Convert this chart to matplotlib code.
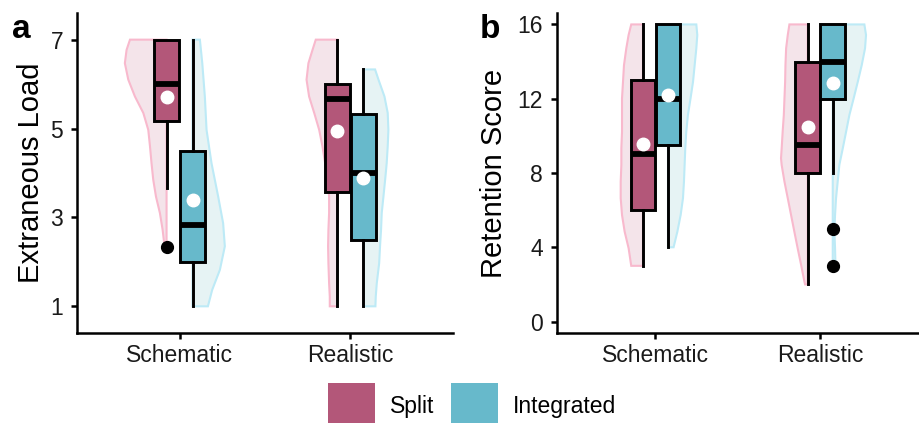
import numpy as np
import matplotlib
matplotlib.use('Agg')
import matplotlib.pyplot as plt
from matplotlib.patches import Patch, Polygon

plt.rcParams['font.family'] = ['Liberation Sans', 'DejaVu Sans']

# ==================================================
# data
# ==================================================
categories = ['Schematic', 'Realistic']
groups = ['Split', 'Integrated']

# box stats per category: [whislo, q1, med, q3, whishi]
load_split_box = [[3.67, 5.17, 6.0, 7.0, 7.0], [1.0, 3.58, 5.67, 6.0, 7.0]]
load_integ_box = [[1.0, 2.0, 2.83, 4.5, 7.0], [1.0, 2.5, 4.0, 5.33, 6.33]]
load_split_mean = [5.72, 4.95]
load_integ_mean = [3.39, 3.89]
load_split_fliers = [[2.33], []]
load_integ_fliers = [[], []]

score_split_box = [[3.0, 6.0, 9.0, 13.0, 16.0], [2.0, 8.0, 9.5, 14.0, 16.0]]
score_integ_box = [[4.0, 9.5, 12.0, 16.0, 16.0], [8.0, 12.0, 14.0, 16.0, 16.0]]
score_split_mean = [9.54, 10.48]
score_integ_mean = [12.22, 12.84]
score_split_fliers = [[], []]
score_integ_fliers = [[], [5.0, 3.0]]

# half violin outlines: y levels and half widths (x units)
load_split_vy = [
    [2.33, 2.42, 2.72, 3.10, 3.47, 3.85, 4.22, 4.60, 4.97, 5.35, 5.72, 6.10, 6.47, 6.77, 7.0],
    [1.0, 1.22, 1.52, 1.97, 2.35, 2.72, 3.10, 3.47, 3.85, 4.22, 4.60, 4.97, 5.35, 5.72, 6.10, 6.47, 6.77, 7.0],
]
load_split_vw = [
    [0.008, 0.014, 0.023, 0.039, 0.062, 0.078, 0.088, 0.097, 0.107, 0.136, 0.185, 0.224, 0.244, 0.234, 0.214],
    [0.045, 0.045, 0.049, 0.053, 0.055, 0.053, 0.049, 0.049, 0.058, 0.072, 0.088, 0.107, 0.136, 0.166, 0.181, 0.170, 0.146, 0.127],
]
load_integ_vy = [
    [1.0, 1.37, 1.82, 2.35, 2.87, 3.47, 4.22, 4.97, 5.72, 6.47, 7.0],
    [1.0, 1.22, 1.52, 1.97, 2.35, 2.72, 3.10, 3.47, 3.85, 4.22, 4.60, 4.97, 5.35, 5.72, 6.10, 6.33],
]
load_integ_vw = [
    [0.09, 0.115, 0.160, 0.189, 0.179, 0.150, 0.111, 0.082, 0.072, 0.057, 0.043],
    [0.07, 0.072, 0.078, 0.092, 0.097, 0.103, 0.107, 0.117, 0.127, 0.136, 0.142, 0.146, 0.142, 0.123, 0.088, 0.068],
]

score_split_vy = [
    [3.0, 3.95, 4.84, 5.74, 6.64, 7.53, 8.43, 9.33, 10.22, 11.12, 12.02, 12.91, 13.81, 14.71, 15.43, 16.0],
    [2.0, 2.15, 3.05, 3.95, 4.84, 5.74, 6.64, 7.53, 8.43, 8.79, 9.33, 10.22, 11.12, 12.02, 12.91, 13.81, 14.71, 15.43, 16.0],
]
score_split_vw = [
    [0.071, 0.087, 0.111, 0.127, 0.135, 0.135, 0.131, 0.131, 0.127, 0.127, 0.127, 0.121, 0.115, 0.101, 0.087, 0.071],
    [0.016, 0.020, 0.040, 0.061, 0.081, 0.101, 0.121, 0.141, 0.158, 0.162, 0.158, 0.152, 0.145, 0.141, 0.137, 0.135, 0.131, 0.121, 0.111],
]
score_integ_vy = [
    [4.0, 4.84, 5.74, 6.64, 7.53, 8.43, 9.33, 10.22, 11.12, 12.02, 12.91, 13.81, 14.71, 15.43, 16.0],
    [3.0, 3.23, 3.95, 4.84, 5.74, 6.64, 7.53, 8.43, 9.33, 10.22, 11.12, 12.02, 12.91, 13.81, 14.71, 15.43, 16.0],
]
score_integ_vw = [
    [0.034, 0.057, 0.077, 0.091, 0.097, 0.101, 0.105, 0.111, 0.121, 0.137, 0.152, 0.162, 0.172, 0.178, 0.172],
    [0.014, 0.016, 0.014, 0.010, 0.014, 0.020, 0.030, 0.040, 0.061, 0.081, 0.101, 0.127, 0.152, 0.176, 0.196, 0.202, 0.192],
]

# ==================================================
# style
# ==================================================
box_colors = {'Split': '#B35779', 'Integrated': '#67B9CB'}
violin_fill = {'Split': '#F4E4EA', 'Integrated': '#E6F3F4'}
violin_edge = {'Split': '#F8B9CD', 'Integrated': '#BDEAF6'}
offsets = {'Split': -0.076, 'Integrated': 0.076}
box_w = 0.15
text_col = '#1A1A1A'


def draw_violin(ax, base, ys, ws, side, group):
    ys = np.array(ys)
    ws = np.array(ws)
    outer = base + side * ws
    xs = np.concatenate([outer, [base, base]])
    yy = np.concatenate([ys, [ys[-1], ys[0]]])
    poly = Polygon(np.column_stack([xs, yy]), closed=True, facecolor=violin_fill[group],
                   edgecolor=violin_edge[group], linewidth=1.5, zorder=1)
    ax.add_patch(poly)


def draw_box(ax, pos, five, mean, fliers, group):
    st = [{'whislo': five[0], 'q1': five[1], 'med': five[2], 'q3': five[3], 'whishi': five[4],
           'mean': mean, 'fliers': fliers}]
    ax.bxp(st, positions=[pos], widths=box_w, patch_artist=True, showcaps=False, showmeans=True,
           manage_ticks=False, zorder=3,
           boxprops=dict(facecolor=box_colors[group], edgecolor='black', linewidth=2.1),
           whiskerprops=dict(color='black', linewidth=2.1),
           medianprops=dict(color='black', linewidth=4.2),
           meanprops=dict(marker='o', markerfacecolor='white', markeredgecolor='white', markersize=9),
           flierprops=dict(marker='o', markerfacecolor='black', markeredgecolor='black', markersize=8.5))


def panel(ax, data, ylim, yticks, ylabel, labelx):
    for i, cat in enumerate(categories):
        x0 = i + 1
        for g in groups:
            d = data[g]
            base = x0 + offsets[g]
            side = -1 if g == 'Split' else 1
            draw_violin(ax, base, d['vy'][i], d['vw'][i], side, g)
            draw_box(ax, base, d['box'][i], d['mean'][i], d['fliers'][i], g)
    ax.set_xlim(0.4, 2.6)
    ax.set_ylim(*ylim)
    ax.set_xticks([1, 2])
    ax.set_xticklabels(categories)
    ax.set_yticks(yticks)
    ax.set_ylabel(ylabel, fontsize=21, color='black')
    ax.yaxis.set_label_coords(labelx, 0.5)
    for s in ['top', 'right']:
        ax.spines[s].set_visible(False)
    for s in ['left', 'bottom']:
        ax.spines[s].set_linewidth(1.8)
    ax.tick_params(axis='both', length=4, width=1.8, labelsize=16.5, labelcolor=text_col)
    ax.tick_params(axis='y', pad=6)
    ax.tick_params(axis='x', pad=4)


fig = plt.figure(figsize=(9.2, 4.23), dpi=100)
ax_a = fig.add_axes([0.0837, 0.2128, 0.4087, 0.7565])
ax_b = fig.add_axes([0.605, 0.2135, 0.394, 0.7551])

load_data = {
    'Split': {'box': load_split_box, 'mean': load_split_mean, 'fliers': load_split_fliers,
              'vy': load_split_vy, 'vw': load_split_vw},
    'Integrated': {'box': load_integ_box, 'mean': load_integ_mean, 'fliers': load_integ_fliers,
                   'vy': load_integ_vy, 'vw': load_integ_vw},
}
score_data = {
    'Split': {'box': score_split_box, 'mean': score_split_mean, 'fliers': score_split_fliers,
              'vy': score_split_vy, 'vw': score_split_vw},
    'Integrated': {'box': score_integ_box, 'mean': score_integ_mean, 'fliers': score_integ_fliers,
                   'vy': score_integ_vy, 'vw': score_integ_vw},
}

panel(ax_a, load_data, (0.4, 7.6), [1, 3, 5, 7], 'Extraneous Load', -0.085)
panel(ax_b, score_data, (-0.6, 16.6), [0, 4, 8, 12, 16], 'Retention Score', -0.134)

fig.text(12 / 920, 1 - 38 / 423, 'a', fontsize=24, fontweight='bold', va='baseline')
fig.text(480 / 920, 1 - 38 / 423, 'b', fontsize=24, fontweight='bold', va='baseline')

handles = [Patch(facecolor=box_colors[g], edgecolor='none') for g in groups]
fig.legend(handles, groups, loc='center', bbox_to_anchor=(0.513, 0.040), ncol=2, frameon=False,
           fontsize=16.5, handlelength=2.05, handleheight=2.78, handletextpad=0.65, columnspacing=0.75)

fig.savefig('out.png', dpi=100)
